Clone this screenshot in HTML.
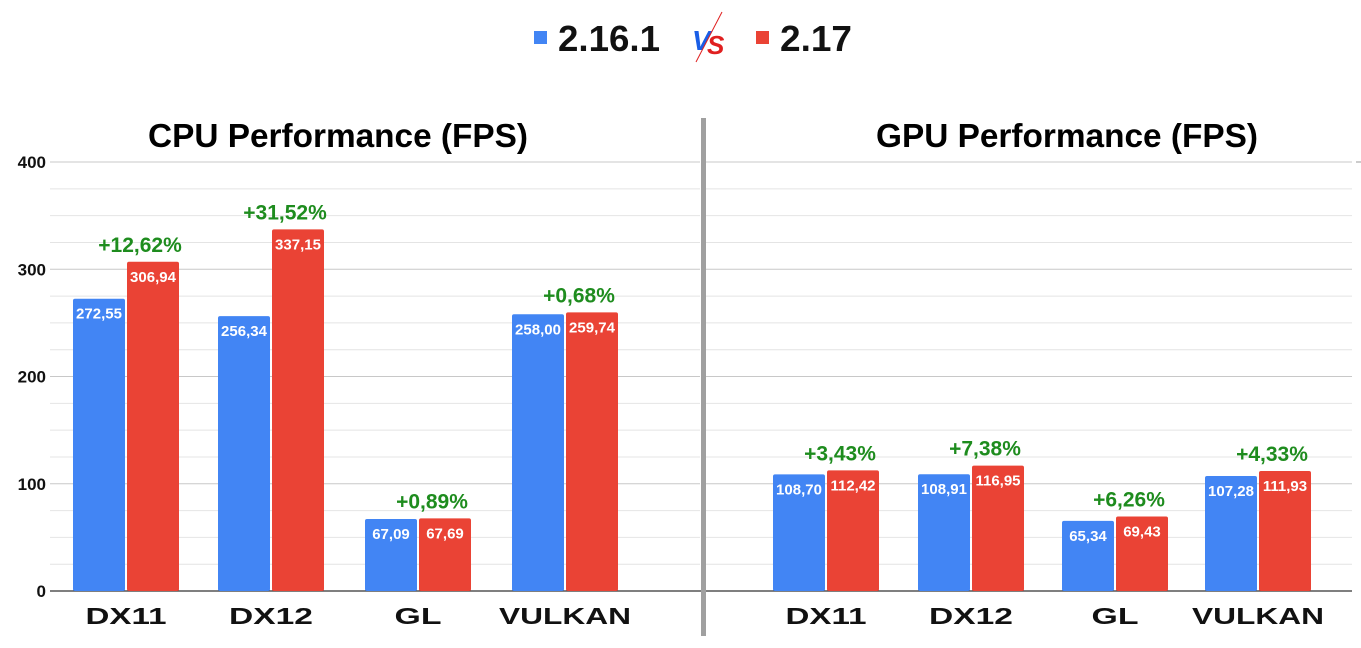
<!DOCTYPE html>
<html><head><style>
body{margin:0;background:#fff;width:1361px;height:643px;overflow:hidden;font-family:"Liberation Sans",Arial,sans-serif}
</style></head><body>
<svg width="1361" height="643" viewBox="0 0 1361 643" xmlns="http://www.w3.org/2000/svg" font-family="Liberation Sans, Arial, sans-serif">
<g id="grid"></g>
<rect x="534" y="31" width="13" height="13" fill="#4285f4"/>
<text x="558" y="51" font-size="36" font-weight="bold" fill="#111" textLength="102" lengthAdjust="spacingAndGlyphs">2.16.1</text>
<text x="692" y="50" font-size="28" font-weight="bold" font-style="italic" fill="#1a5ee6">V</text>
<text x="707" y="54" font-size="26" font-weight="bold" font-style="italic" fill="#e02020">S</text>
<line x1="722" y1="12" x2="696" y2="62" stroke="#e02020" stroke-width="1"/>
<rect x="756" y="31" width="13" height="13" fill="#ea4335"/>
<text x="780" y="51" font-size="36" font-weight="bold" fill="#111" textLength="72" lengthAdjust="spacingAndGlyphs">2.17</text>
<text x="338" y="147" font-size="33" font-weight="bold" text-anchor="middle" fill="#000" textLength="380" lengthAdjust="spacingAndGlyphs">CPU Performance (FPS)</text>
<text x="1067" y="147" font-size="33" font-weight="bold" text-anchor="middle" fill="#000" textLength="382" lengthAdjust="spacingAndGlyphs">GPU Performance (FPS)</text>
<g id="bars"></g>
<rect x="701" y="118" width="5" height="518" fill="#a0a0a0"/>
</svg>
<script>
const NS="http://www.w3.org/2000/svg";
function el(p,t,a,txt){const e=document.createElementNS(NS,t);for(const k in a)e.setAttribute(k,a[k]);if(txt!=null)e.textContent=txt;p.appendChild(e);return e;}
const g=document.getElementById('grid'),b=document.getElementById('bars');
const base=591,s=1.0725;
for(let v=25;v<=400;v+=25){const y=base-v*s;const major=v%100==0;
el(g,'line',{x1:50,x2:700,y1:y,y2:y,stroke:major?'#c8c8c8':'#e4e4e4','stroke-width':1});
el(g,'line',{x1:706,x2:1352,y1:y,y2:y,stroke:major?'#c8c8c8':'#e4e4e4','stroke-width':1});}
el(g,'line',{x1:50,x2:1352,y1:base,y2:base,stroke:'#333','stroke-width':1.2});
el(g,'line',{x1:1356,x2:1361,y1:162,y2:162,stroke:'#999'});
[0,100,200,300,400].forEach(v=>el(g,'text',{x:46,y:base-v*s+6,'font-size':17,'font-weight':'bold','text-anchor':'end',fill:'#111'},v));
const W={DX11:81,DX12:84,GL:47,VULKAN:132};
const data=[[73,'DX11',272.55,306.94,'+12,62%'],[218,'DX12',256.34,337.15,'+31,52%'],[365,'GL',67.09,67.69,'+0,89%'],[512,'VULKAN',258.00,259.74,'+0,68%'],
[773,'DX11',108.70,112.42,'+3,43%'],[918,'DX12',108.91,116.95,'+7,38%'],[1062,'GL',65.34,69.43,'+6,26%'],[1205,'VULKAN',107.28,111.93,'+4,33%']];
const f=v=>v.toFixed(2).replace('.',',');
data.forEach(([x,l,a,c,p])=>{
[[x,a,'#4285f4'],[x+54,c,'#ea4335']].forEach(([bx,v,col])=>{const h=v*s;
el(b,'rect',{x:bx,y:base-h,width:52,height:h,fill:col,rx:2});
el(b,'text',{x:bx+26,y:base-h+20,'font-size':15,'font-weight':'bold','text-anchor':'middle',fill:'#fff'},f(v));});
el(b,'text',{x:x+67,y:base-c*s-10,'font-size':21,'font-weight':'bold','text-anchor':'middle',fill:'#1e8c1e'},p);
el(b,'text',{x:x+53,y:624,'font-size':23,'font-weight':'bold','text-anchor':'middle',fill:'#111',textLength:W[l],lengthAdjust:'spacingAndGlyphs'},l);
});
</script>
</body></html>
